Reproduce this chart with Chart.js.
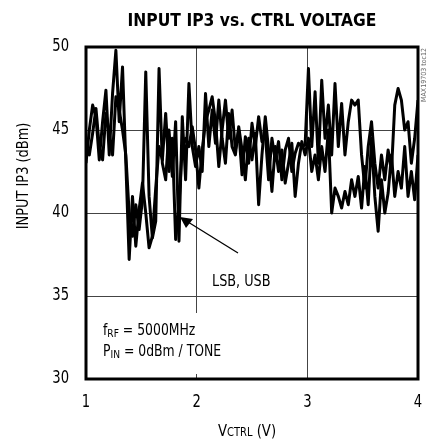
<!DOCTYPE html>
<html>
<head>
<meta charset="utf-8">
<script src="https://cdn.jsdelivr.net/npm/chart.js@4/dist/chart.umd.min.js"></script>
<style>
  html, body { margin:0; padding:0; background:#fff; }
  #wrap { width:427px; height:441px; position:relative; }
</style>
</head>
<body>
<div id="wrap"><canvas id="ip3Chart" width="427" height="441"></canvas></div>
<script>
// ---- data ----
const vctrl = [1.00,1.03,1.06,1.09,1.12,1.15,1.18,1.21,1.24,1.27,1.30,1.33,1.36,1.39,1.42,1.45,1.48,1.51,1.54,1.57,
  1.60,1.63,1.66,1.69,1.72,1.75,1.78,1.81,1.84,1.87,1.90,1.93,1.96,1.99,2.02,2.05,2.08,2.11,2.14,2.17,
  2.20,2.23,2.26,2.29,2.32,2.35,2.38,2.41,2.44,2.47,2.50,2.53,2.56,2.59,2.62,2.65,2.68,2.71,2.74,2.77,
  2.80,2.83,2.86,2.89,2.92,2.95,2.98,3.01,3.04,3.07,3.10,3.13,3.16,3.19,3.22,3.25,3.28,3.31,3.34,3.37,
  3.40,3.43,3.46,3.49,3.52,3.55,3.58,3.61,3.64,3.67,3.70,3.73,3.76,3.79,3.82,3.85,3.88,3.91,3.94,3.97,4.00];

const lsb = [43.0,45.0,46.5,45.8,43.2,45.5,47.4,43.5,47.2,49.8,45.5,48.8,43.0,37.2,41.0,38.0,40.2,41.8,40.0,37.9,
  38.6,41.5,44.0,43.2,46.0,42.5,44.5,38.4,40.5,44.0,44.5,44.0,45.2,43.8,41.5,43.8,45.5,46.2,47.0,45.5,
  42.8,45.0,46.8,44.5,46.2,43.8,45.0,42.3,44.6,43.0,45.4,44.0,45.8,44.3,44.8,42.0,44.5,43.2,44.3,42.0,
  43.8,44.5,42.5,43.6,44.2,44.0,44.1,48.7,44.0,47.3,43.0,48.0,44.5,46.5,43.5,47.8,44.0,46.6,43.5,45.5,
  46.8,46.5,46.8,43.5,41.5,44.0,45.5,43.0,41.5,43.5,42.0,43.8,42.5,46.5,47.5,46.8,45.0,45.5,43.0,44.5,46.8];

const usb = [44.0,43.5,44.8,46.3,44.0,43.2,46.0,44.8,43.5,47.0,46.2,45.0,43.5,40.0,38.6,40.5,39.0,40.8,48.5,41.0,
  38.5,39.5,48.7,43.0,42.0,45.0,42.2,45.5,38.3,45.8,42.0,47.8,44.0,42.8,44.0,42.5,47.2,44.0,46.2,44.2,
  46.8,44.5,43.0,46.0,44.0,43.5,45.2,43.8,42.0,44.5,43.2,44.8,40.5,43.5,45.8,43.8,41.3,44.0,42.5,43.8,
  41.8,43.0,44.2,41.0,43.0,44.3,43.5,44.5,42.5,43.5,42.0,44.0,42.5,45.0,40.0,41.5,41.0,40.3,41.3,40.5,
  42.0,41.0,42.2,40.3,42.8,40.5,44.5,41.0,38.9,42.0,40.0,41.2,43.5,41.0,42.5,41.5,44.0,41.0,42.5,40.8,43.5];

const xTicks = [1, 2, 3, 4];
const yTicks = [30, 35, 40, 45, 50];

const FONT = '"Liberation Sans Narrow", "DejaVu Sans Condensed", Roboto, sans-serif';

// draw text squeezed horizontally (the original uses a narrow face)
function narrow(ctx, txt, x, y, sx, align) {
  ctx.save();
  ctx.translate(x, y);
  ctx.scale(sx, 1);
  ctx.textAlign = align || 'left';
  ctx.fillText(txt, 0, 0);
  ctx.restore();
  return ctx.measureText(txt).width * sx;
}

const decor = {
  id: 'decor',
  beforeDatasetsDraw(chart) {
    const { ctx, chartArea: a } = chart;
    // white box that breaks the grid behind the conditions text
    ctx.save();
    ctx.fillStyle = '#fff';
    ctx.fillRect(a.left + 4, 313, 120, 61);
    ctx.restore();
  },
  afterDraw(chart) {
    const { ctx, chartArea: a, scales: { x, y } } = chart;
    ctx.save();
    ctx.fillStyle = '#000';
    ctx.textBaseline = 'alphabetic';

    // title
    ctx.font = `bold 18px ${FONT}`;
    narrow(ctx, 'INPUT IP3 vs. CTRL VOLTAGE', 252, 26, 0.96, 'center');

    // tick labels
    ctx.font = `17px ${FONT}`;
    ctx.textBaseline = 'middle';
    yTicks.forEach(v => narrow(ctx, String(v), 69, y.getPixelForValue(v), 0.86, 'right'));
    xTicks.forEach(v => narrow(ctx, String(v), x.getPixelForValue(v), 403, 0.86, 'center'));
    ctx.textBaseline = 'alphabetic';

    // y axis title
    ctx.save();
    ctx.translate(28, 176);
    ctx.rotate(-Math.PI / 2);
    ctx.font = `16px ${FONT}`;
    narrow(ctx, 'INPUT IP3 (dBm)', 0, 0, 0.9, 'center');
    ctx.restore();

    // x axis title  V_CTRL (V)
    let px = 218;
    ctx.font = `16px ${FONT}`;
    px += narrow(ctx, 'V', px, 436, 0.92);
    ctx.font = `12px ${FONT}`;
    px += narrow(ctx, 'CTRL', px, 436, 0.92);
    ctx.font = `16px ${FONT}`;
    narrow(ctx, ' (V)', px, 436, 0.92);

    // conditions
    const sub = (parts, x0, yb) => {
      let p = x0;
      parts.forEach(([t, s]) => {
        ctx.font = `${s ? 11 : 15}px ${FONT}`;
        p += narrow(ctx, t, p, yb + (s ? 2 : 0), 0.92);
      });
    };
    sub([['f', 0], ['RF', 1], [' = 5000MHz', 0]], 103, 335);
    sub([['P', 0], ['IN', 1], [' = 0dBm / TONE', 0]], 103, 356);

    // LSB, USB label and arrow
    ctx.font = `15px ${FONT}`;
    narrow(ctx, 'LSB, USB', 212, 286, 0.95);
    ctx.strokeStyle = '#000';
    ctx.lineWidth = 1.3;
    ctx.beginPath();
    ctx.moveTo(238, 253);
    ctx.lineTo(188, 222);
    ctx.stroke();
    ctx.beginPath();
    ctx.moveTo(180, 217);
    ctx.lineTo(193, 219);
    ctx.lineTo(186, 228);
    ctx.closePath();
    ctx.fill();

    // side label
    ctx.save();
    ctx.translate(426, 48);
    ctx.rotate(-Math.PI / 2);
    ctx.font = `7px ${FONT}`;
    ctx.fillStyle = '#666';
    ctx.textAlign = 'right';
    ctx.fillText('MAX19703 toc12', 0, 0);
    ctx.restore();

    // frame
    ctx.strokeStyle = '#000';
    ctx.lineWidth = 3;
    ctx.strokeRect(a.left, a.top, a.right - a.left, a.bottom - a.top);
    ctx.restore();
  }
};

const ctx = document.getElementById('ip3Chart').getContext('2d');
new Chart(ctx, {
  type: 'line',
  data: {
    datasets: [
      { label: 'LSB', data: vctrl.map((v, i) => ({ x: v, y: lsb[i] })), borderColor: '#000', borderWidth: 3, borderJoinStyle: 'round', pointRadius: 0, tension: 0, fill: false },
      { label: 'USB', data: vctrl.map((v, i) => ({ x: v, y: usb[i] })), borderColor: '#000', borderWidth: 3, borderJoinStyle: 'round', pointRadius: 0, tension: 0, fill: false },
    ],
  },
  options: {
    responsive: false,
    animation: false,
    layout: { padding: { left: 0, right: 9, top: 47, bottom: 0 } },
    plugins: { legend: { display: false }, tooltip: { enabled: false } },
    scales: {
      x: {
        type: 'linear', min: 1, max: 4,
        afterBuildTicks: s => { s.ticks = xTicks.map(v => ({ value: v })); },
        afterFit: s => { s.height = 62; },
        ticks: { display: false },
        grid: { color: '#444', lineWidth: 1, drawTicks: false },
        border: { display: false },
      },
      y: {
        min: 30, max: 50,
        afterBuildTicks: s => { s.ticks = yTicks.map(v => ({ value: v })); },
        afterFit: s => { s.width = 86; },
        ticks: { display: false },
        grid: { color: '#444', lineWidth: 1, drawTicks: false },
        border: { display: false },
      },
    },
  },
  plugins: [decor],
});
</script>
</body>
</html>
